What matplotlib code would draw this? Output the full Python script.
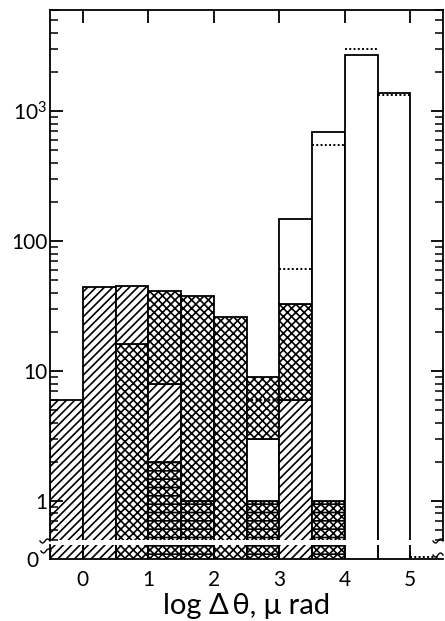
import numpy as np
import matplotlib
matplotlib.use('Agg')
import matplotlib.pyplot as plt
from matplotlib.lines import Line2D

plt.rcParams['font.family'] = ['Lato', 'DejaVu Sans']
plt.rcParams['mathtext.default'] = 'regular'
plt.rcParams['hatch.linewidth'] = 1.2

################  Data  ################

bin_left = [-0.5, 0.0, 0.5, 1.0, 1.5, 2.0, 2.5, 3.0, 3.5, 4.0, 4.5]
bin_width = 0.5

# counts in each bin, split by shading class
n_circ = [0, 0, 0, 2, 1, 0, 1, 0, 1, 0, 0]
n_diag = [6, 44, 29, 6, 0, 0, 0, 6, 0, 0, 0]
n_cross = [0, 0, 16, 33, 37, 26, 6, 27, 0, 0, 0]
n_open = [0, 0, 0, 0, 0, 0, 2, 114, 689, 2680, 1370]

# stacking order per bin, bottom first (c=circles, d=diagonal, x=cross, o=open)
stack_order = ['cdxo', 'cdxo', 'xdco', 'cdxo', 'cdxo', 'cdxo',
               'coxd', 'cdxo', 'cdxo', 'cdxo', 'cdxo']

# dotted histogram
dot_left = [2.5, 3.0, 3.5, 4.0, 4.5]
dot_vals = [6, 61, 550, 3000, 1330]
dot_zero_left = [5.0]

yticks = [1, 10, 100, 1000]
ytick_labels = ['1', '10', '100', '$10^3$']
xticks = [0, 1, 2, 3, 4, 5]

counts = {'c': n_circ, 'd': n_diag, 'x': n_cross, 'o': n_open}
hatches = {'c': 'xxxx--', 'd': '////', 'x': 'xxxx', 'o': None}

################  Figure  ################

W, H = 445, 621
fig = plt.figure(figsize=(W / 100, H / 100), dpi=100)
ax = fig.add_axes([50 / W, 1 - 540 / H, 393 / W, 530 / H])
ax0 = fig.add_axes([50 / W, 1 - 559 / H, 393 / W, 14 / H])

for i, x0 in enumerate(bin_left):
    b = 1e-3
    for ch in stack_order[i]:
        h = counts[ch][i]
        if h <= 0:
            continue
        ax.bar(x0, h, bin_width, bottom=b, align='edge', facecolor='white',
               edgecolor='black', linewidth=1.3, hatch=hatches[ch])
        b += h
    # bottom class continues in the zero strip
    first = [ch for ch in stack_order[i] if counts[ch][i] > 0][0]
    ax0.bar(x0, 1, bin_width, align='edge', facecolor='white',
            edgecolor='black', linewidth=0, hatch=hatches[first])
    ax0.vlines([x0, x0 + bin_width], 0, 1, color='black', linewidth=1.3)

for x0, v in zip(dot_left, dot_vals):
    ax.hlines(v, x0, x0 + bin_width, color='black', linestyle=(0, (1, 1.2)),
              linewidth=1.4)
for x0 in dot_zero_left:
    ax0.hlines(0.15, x0, x0 + bin_width * 0.9, color='black',
               linestyle=(0, (1, 1.2)), linewidth=1.4)

ax.set_yscale('log')
ax.set_ylim(0.5, 6000)
ax.set_xlim(-0.5, 5.5)
ax.set_yticks(yticks)
ax.set_yticklabels(ytick_labels, fontsize=15)
ax.set_xticks(xticks)
ax.tick_params(axis='y', which='both', direction='in', left=True, right=True, pad=2)
ax.tick_params(axis='y', which='major', length=9, width=1.3)
ax.tick_params(axis='y', which='minor', length=6, width=1.1)
ax.tick_params(axis='x', which='both', direction='in', top=True, bottom=False,
               labelbottom=False, length=9, width=1.3)
ax.spines['bottom'].set_visible(False)
for s in ['top', 'left', 'right']:
    ax.spines[s].set_linewidth(1.3)

ax0.set_xlim(-0.5, 5.5)
ax0.set_ylim(0, 1)
ax0.set_yticks([0])
ax0.set_yticklabels(['0'], fontsize=15)
ax0.tick_params(axis='y', length=0, pad=8)
ax0.set_xticks(xticks)
ax0.set_xticklabels([str(t) for t in xticks], fontsize=15)
ax0.tick_params(axis='x', direction='in', length=5, width=1.3, pad=8)
ax0.spines['top'].set_visible(False)
ax0.spines['right'].set_visible(False)
for s in ['bottom', 'left']:
    ax0.spines[s].set_linewidth(1.3)
ax0.set_xlabel('log \u0394\u2009\u03b8, \u03bc rad', fontsize=21, labelpad=2)

# axis break marks
t = np.linspace(0, 1, 30)
def squiggle(xp, yp, w=10, a=2.0):
    xs = (xp - w + w * t) / W
    ys = 1 - (yp + a * np.sin(2 * np.pi * t)) / H
    fig.add_artist(Line2D(xs, ys, color='black', linewidth=1.0))

squiggle(50, 541)
squiggle(51, 551)
squiggle(443, 541)
squiggle(443, 555)

fig.savefig('out.png', dpi=100)
